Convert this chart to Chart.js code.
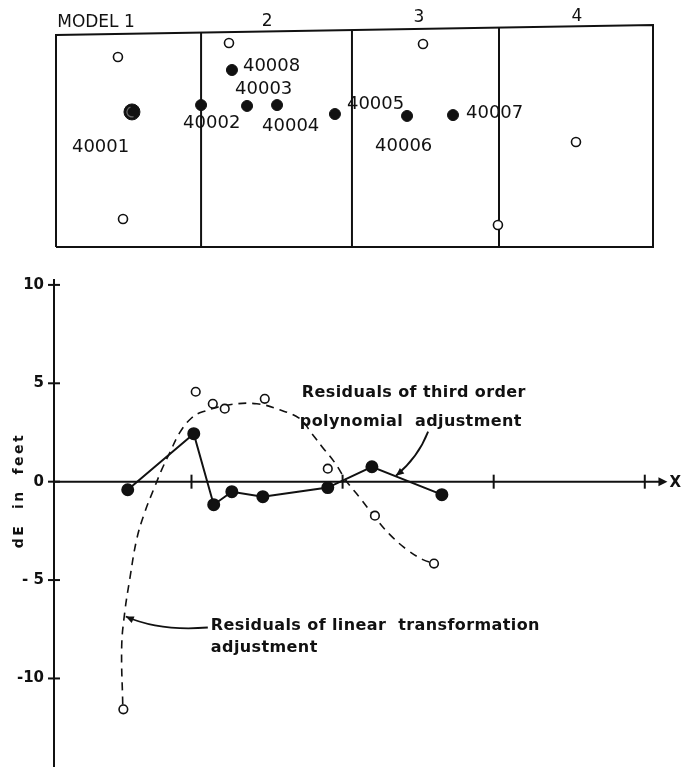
<!DOCTYPE html>
<html><head><meta charset="utf-8">
<script src="https://cdn.jsdelivr.net/npm/chart.js@4.4.0/dist/chart.umd.min.js"></script>
<style>
html,body{margin:0;padding:0;background:#fff;width:681px;height:767px;overflow:hidden}
canvas{position:absolute;left:0}
#map{top:0}
#plot{top:255px}
</style></head><body>
<canvas id="map" width="681" height="255"></canvas>
<canvas id="plot" width="681" height="512"></canvas>
<script>
// ---------- MAP (top) data: model units across, same unit up ----------
const stationNames = ['40001','40002','40008','40003','40004','40005','40006','40007'];
const stationX = [0.509, 0.972, 1.179, 1.280, 1.481, 1.869, 2.352, 2.660];
const stationY = [0.905, 0.951, 1.186, 0.945, 0.951, 0.891, 0.878, 0.884];
const openX = [0.415, 1.159, 0.449, 2.459, 2.961, 3.484];
const openY = [1.273, 1.367, 0.188, 1.360, 0.147, 0.704];
const modelNames = ['MODEL 1', '2', '3', '4'];
const modelLabelX = [0.268, 1.414, 2.432, 3.491];
const modelLabelY = [1.501, 1.508, 1.534, 1.541];
const frameX = [0, 0, 4, 4, 0];
const frameY = [0, 1.420, 1.487, 0, 0];
const dividerX = [0.972, 1.983, 2.968];
const dividerTop = [1.434, 1.454, 1.474];
// label offsets (px) relative to each station point
const labelDX = [-60, -18, 11, -12, -15, 12, -32, 13];
const labelDY = [35, 18, -4, -17, 21, -10, 30, -2];

// ---------- PLOT (bottom) data ----------
const polyX = [0.578, 1.015, 1.147, 1.267, 1.472, 1.902, 2.194, 2.657];
const polyY = [-0.41, 2.44, -1.17, -0.51, -0.76, -0.30, 0.76, -0.66];
const linX = [0.549, 1.028, 1.141, 1.220, 1.485, 1.902, 2.214, 2.605];
const linY = [-11.57, 4.57, 3.96, 3.71, 4.21, 0.66, -1.73, -4.16];
const curveX = [0.545, 0.538, 0.558, 0.591, 0.637, 0.690, 0.757, 0.803, 0.856, 0.922, 1.002, 1.074, 1.253, 1.432, 1.584, 1.717, 1.797, 1.869, 1.949, 2.028, 2.114, 2.227, 2.313, 2.425, 2.531, 2.604];
const curveY = [-11.32, -8.38, -6.65, -4.97, -2.94, -1.57, -0.25, 0.61, 1.47, 2.49, 3.25, 3.55, 3.91, 3.96, 3.65, 3.20, 2.44, 1.73, 0.96, 0.00, -0.81, -1.93, -2.69, -3.45, -3.96, -4.16];
const yTicks = [10, 5, 0, -5, -10];
const yTickLabels = ['10', '5', '0', '- 5', '-10'];
const xTicks = [1, 2, 3, 4];

const INK = '#111';
const pts = (xs, ys) => xs.map((x, i) => ({x, y: ys[i]}));

// ================= MAP CHART =================
const mapDatasets = [
  {type:'line', data: pts(frameX, frameY), borderColor: INK, borderWidth: 2, pointRadius: 0, tension: 0, fill: false, clip: false, order: 5}
];
dividerX.forEach((dx, i) => {
  mapDatasets.push({type:'line', data: pts([dx, dx], [0, dividerTop[i]]), borderColor: INK, borderWidth: 2, pointRadius: 0, tension: 0, fill: false, clip: false, order: 5});
});
mapDatasets.push({type:'scatter', data: pts(openX, openY), pointRadius: 4.5, pointBackgroundColor:'#fff', pointBorderColor: INK, pointBorderWidth: 1.6, clip: false, order: 1});
mapDatasets.push({type:'scatter', data: pts(stationX, stationY), pointRadius: stationNames.map((n,i)=> i===0 ? 8 : 5.5), pointBackgroundColor: INK, pointBorderColor: INK, pointBorderWidth: 1, clip: false, order: 0});

const mapLabels = {
  id: 'mapLabels',
  afterDatasetsDraw(chart) {
    const {ctx, scales:{x, y}} = chart;
    ctx.save();
    ctx.fillStyle = INK;
    ctx.textBaseline = 'middle';
    ctx.font = '18px "DejaVu Sans"';
    ctx.textAlign = 'left';
    stationNames.forEach((n, i) => {
      ctx.fillText(n, x.getPixelForValue(stationX[i]) + labelDX[i], y.getPixelForValue(stationY[i]) + labelDY[i]);
    });
    // ring inside 40001 marker
    ctx.strokeStyle = '#666';
    ctx.lineWidth = 1.2;
    ctx.beginPath();
    ctx.arc(x.getPixelForValue(stationX[0]), y.getPixelForValue(stationY[0]), 5, 0.4*Math.PI, 1.4*Math.PI);
    ctx.stroke();
    ctx.font = '17px "DejaVu Sans"';
    ctx.textAlign = 'center';
    modelNames.forEach((m, i) => {
      ctx.fillText(m, x.getPixelForValue(modelLabelX[i]), y.getPixelForValue(modelLabelY[i]));
    });
    ctx.restore();
  }
};

new Chart(document.getElementById('map'), {
  type: 'scatter',
  data: {datasets: mapDatasets},
  options: {
    responsive: false, animation: false, events: [],
    layout: {autoPadding: false, padding: {left: 56, right: 28, top: 10, bottom: 8}},
    plugins: {legend: {display: false}, tooltip: {enabled: false}},
    scales: {
      x: {type: 'linear', min: 0, max: 4, display: false},
      y: {type: 'linear', min: 0, max: 1.588, display: false}
    }
  },
  plugins: [mapLabels]
});

// ================= RESIDUAL PLOT =================
const texts = [
  {t: 'Residuals of third order', x: 1.730, y: 4.52},
  {t: 'polynomial  adjustment', x: 1.717, y: 3.05},
  {t: 'Residuals of linear  transformation', x: 1.128, y: -7.31},
  {t: 'adjustment', x: 1.128, y: -8.43}
];
const arrows = [
  {sx: 2.566, sy: 2.54, cx: 2.499, cy: 1.22, ex: 2.353, ey: 0.30},
  {sx: 1.108, sy: -7.41, cx: 0.790, cy: -7.61, ex: 0.565, ey: -6.85}
];
const X_TIP = 4.15;

const axesPlugin = {
  id: 'axesPlugin',
  beforeDatasetsDraw(chart) {
    const {ctx, chartArea, scales:{x, y}} = chart;
    ctx.save();
    ctx.strokeStyle = INK; ctx.fillStyle = INK;
    ctx.lineWidth = 2;
    const xl = chartArea.left;
    const y0 = y.getPixelForValue(0);
    // y axis
    ctx.beginPath(); ctx.moveTo(xl, chartArea.top); ctx.lineTo(xl, chartArea.bottom); ctx.stroke();
    ctx.font = 'bold 15px "DejaVu Sans"';
    ctx.textBaseline = 'middle'; ctx.textAlign = 'right';
    yTicks.forEach((v, i) => {
      const py = y.getPixelForValue(v);
      ctx.beginPath(); ctx.moveTo(xl - 6, py); ctx.lineTo(xl + 6, py); ctx.stroke();
      ctx.fillText(yTickLabels[i], xl - 10, py);
    });
    // x axis with arrow
    const tip = x.getPixelForValue(X_TIP);
    ctx.beginPath(); ctx.moveTo(xl, y0); ctx.lineTo(tip - 4, y0); ctx.stroke();
    ctx.beginPath(); ctx.moveTo(tip, y0); ctx.lineTo(tip - 9, y0 - 4.5); ctx.lineTo(tip - 9, y0 + 4.5); ctx.closePath(); ctx.fill();
    xTicks.forEach(v => {
      const px = x.getPixelForValue(v);
      ctx.beginPath(); ctx.moveTo(px, y0 - 7); ctx.lineTo(px, y0 + 7); ctx.stroke();
    });
    ctx.font = 'bold 15px "DejaVu Sans"';
    ctx.textAlign = 'left';
    ctx.fillText('X', tip + 2, y0 + 1);
    // y title
    ctx.save();
    ctx.translate(19, y.getPixelForValue(-0.45));
    ctx.rotate(-Math.PI / 2);
    ctx.font = 'bold 14px "DejaVu Sans"';
    ctx.letterSpacing = '2.5px';
    ctx.textAlign = 'center';
    ctx.fillText('dE  in  feet', 0, 0);
    ctx.restore();
    ctx.restore();
  },
  afterDatasetsDraw(chart) {
    const {ctx, scales:{x, y}} = chart;
    ctx.save();
    ctx.fillStyle = INK; ctx.strokeStyle = INK;
    ctx.font = 'bold 16px "DejaVu Sans"';
    ctx.letterSpacing = '0.4px';
    ctx.textBaseline = 'middle'; ctx.textAlign = 'left';
    texts.forEach(t => ctx.fillText(t.t, x.getPixelForValue(t.x), y.getPixelForValue(t.y)));
    ctx.lineWidth = 1.8;
    arrows.forEach(a => {
      const sx = x.getPixelForValue(a.sx), sy = y.getPixelForValue(a.sy);
      const cx = x.getPixelForValue(a.cx), cy = y.getPixelForValue(a.cy);
      const ex = x.getPixelForValue(a.ex), ey = y.getPixelForValue(a.ey);
      ctx.beginPath(); ctx.moveTo(sx, sy); ctx.quadraticCurveTo(cx, cy, ex, ey); ctx.stroke();
      const ang = Math.atan2(ey - cy, ex - cx);
      ctx.beginPath();
      ctx.moveTo(ex, ey);
      ctx.lineTo(ex - 8 * Math.cos(ang) + 3.5 * Math.sin(ang), ey - 8 * Math.sin(ang) - 3.5 * Math.cos(ang));
      ctx.lineTo(ex - 8 * Math.cos(ang) - 3.5 * Math.sin(ang), ey - 8 * Math.sin(ang) + 3.5 * Math.cos(ang));
      ctx.closePath(); ctx.fill();
    });
    ctx.restore();
  }
};

new Chart(document.getElementById('plot'), {
  type: 'scatter',
  data: {
    datasets: [
      {label: 'Residuals of third order polynomial adjustment', type: 'line', data: pts(polyX, polyY),
        borderColor: INK, borderWidth: 2, tension: 0, fill: false,
        pointRadius: 5.5, pointBackgroundColor: INK, pointBorderColor: INK, clip: false, order: 0},
      {label: 'Residuals of linear transformation adjustment', type: 'scatter', data: pts(linX, linY),
        pointRadius: 4.3, pointBackgroundColor: '#fff', pointBorderColor: INK, pointBorderWidth: 1.6, clip: false, order: 1},
      {label: 'linear transformation trend', type: 'line', data: pts(curveX, curveY),
        borderColor: INK, borderWidth: 1.6, borderDash: [8, 6], tension: 0.4, fill: false,
        pointRadius: 0, clip: false, order: 2}
    ]
  },
  options: {
    responsive: false, animation: false, events: [],
    layout: {autoPadding: false, padding: {left: 54, right: 6, top: 24, bottom: 0}},
    plugins: {legend: {display: false}, tooltip: {enabled: false}},
    scales: {
      x: {type: 'linear', min: 0.09, max: 4.2, display: false},
      y: {type: 'linear', min: -14.5, max: 10.3, display: false}
    }
  },
  plugins: [axesPlugin]
});
</script>
</body></html>
